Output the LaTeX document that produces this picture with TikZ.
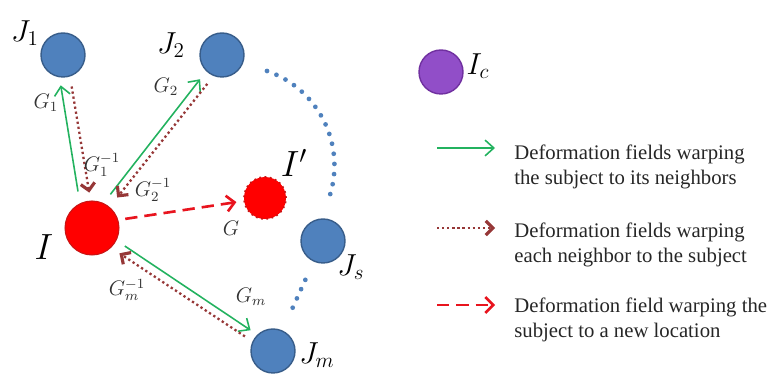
\documentclass[tikz,border=0pt]{standalone}
\usepackage{fontspec}
\setmainfont{Liberation Serif}
\usetikzlibrary{arrows.meta, positioning, calc}

\definecolor{nbrblue}{RGB}{79,129,189}
\definecolor{nbredge}{RGB}{56,93,138}
\definecolor{subjred}{RGB}{255,0,0}
\definecolor{subjedge}{RGB}{200,20,20}
\definecolor{tmplpurple}{RGB}{145,78,200}
\definecolor{tmpledge}{RGB}{112,48,160}
\definecolor{fwdgreen}{RGB}{35,178,95}
\definecolor{invmaroon}{RGB}{150,55,55}
\definecolor{newred}{RGB}{232,20,30}

\tikzset{
  nbr/.style={circle, fill=nbrblue, draw=nbredge, line width=0.8pt, inner sep=0pt, minimum size=0.88cm},
  subj/.style={circle, fill=subjred, draw=subjedge, line width=0.6pt, inner sep=0pt, minimum size=1.08cm},
  newsubj/.style={circle, fill=subjred, draw=subjedge, line width=1pt, dotted, inner sep=0pt, minimum size=0.84cm},
  tmpl/.style={circle, fill=tmplpurple, draw=tmpledge, line width=0.8pt, inner sep=0pt, minimum size=0.88cm},
  fwd/.style={draw=fwdgreen, line width=0.9pt, -{Straight Barb[length=5pt, width=9pt]}},
  inv/.style={draw=invmaroon, line width=1.3pt, dash pattern=on 1.3pt off 1.6pt,
    -{Straight Barb[length=4pt, width=8pt, line width=1.8pt]}},
  newloc/.style={draw=newred, line width=1.5pt, dash pattern=on 7pt off 4pt,
    -{Straight Barb[length=4.5pt, width=9pt, line width=1.5pt]}},
  dots/.style={draw=nbrblue, line width=2.7pt, line cap=round, dash pattern=on 0pt off 5.8pt},
  biglab/.style={font=\fontsize{18}{20}\selectfont},
  flab/.style={font=\fontsize{12}{14}\selectfont, text=black!80},
  legtext/.style={font=\fontsize{11.8}{14.2}\selectfont, text=black!85, align=left, inner sep=0pt}
}

\begin{document}
\begin{tikzpicture}[x=0.02cm, y=-0.02cm]
  \useasboundingbox (0,0) rectangle (775,378);

  % subject, its new location and the neighbors
  \node[subj] (I) at (92,228) {};
  \node[newsubj] (Inew) at (265,198) {};
  \node[nbr] (J1) at (63,55) {};
  \node[nbr] (J2) at (222,55) {};
  \node[nbr] (Js) at (323,241) {};
  \node[nbr] (Jm) at (273,351) {};
  \node[tmpl] (Ic) at (441,72) {};

  % node labels
  \node[biglab] (labJ1) at (25,33) {$J_1$};
  \node[biglab] (labJ2) at (171,45) {$J_2$};
  \node[biglab] (labJs) at (351,267) {$J_s$};
  \node[biglab] (labJm) at (317,355) {$J_m$};
  \node[biglab] (labIc) at (478,66) {$I_c$};
  \node[biglab, font=\fontsize{22}{24}\selectfont] (labI) at (44,247) {$I$};
  \node[biglab, font=\fontsize{20}{22}\selectfont] (labInew) at (294,163) {$I'$};

  % the remaining neighbors, left out
  \coordinate (arcA) at (267,71);
  \draw[dots] (arcA) arc[start angle=-71, end angle=18, radius=100];
  \draw[dots, shorten <=0.4cm, shorten >=0.36cm] (Js) -- (Jm);

  % forward fields (subject to neighbors)
  \draw[fwd, shorten <=0.24cm, shorten >=0.16cm] (I.116) -- (J1.261);
  \draw[fwd, shorten <=0.22cm, shorten >=0.2cm] (I.65) -- (J2.226);
  \draw[fwd, shorten <=0.2cm, shorten >=0.16cm] (I.333) -- (Jm.134);

  % inverse fields (neighbors to subject)
  \draw[inv, shorten <=0.2cm, shorten >=0.16cm] (J1.288) -- (I.93);
  \draw[inv, shorten <=0.2cm, shorten >=0.24cm] (J2.248) -- (I.50);
  \draw[inv, shorten <=0.18cm, shorten >=0.2cm] (Jm.155) -- (I.314);

  % field to the new location
  \draw[newloc, shorten <=0.14cm, shorten >=0.14cm] (I.17) -- (Inew.188);

  % field labels
  \node[flab] (labG1) at (46,103) {$G_1$};
  \node[flab] (labG1i) at (102,165) {$G_1^{-1}$};
  \node[flab] (labG2) at (166,87) {$G_2$};
  \node[flab] (labG2i) at (153,190) {$G_2^{-1}$};
  \node[flab] (labG) at (231,228) {$G$};
  \node[flab] (labGm) at (251,297) {$G_m$};
  \node[flab] (labGmi) at (127,290) {$G_m^{-1}$};

  % legend
  \coordinate (lgA) at (437,148);
  \coordinate (lgB) at (495,148);
  \coordinate (lgC) at (437,228);
  \coordinate (lgD) at (495,228);
  \coordinate (lgE) at (437,305);
  \coordinate (lgF) at (495,305);
  \draw[fwd] (lgA) -- (lgB);
  \draw[inv] (lgC) -- (lgD);
  \draw[newloc] (lgE) -- (lgF);
  \node[legtext, anchor=north west] (txtA) at (514,145) {Deformation fields warping\\the subject to its neighbors};
  \node[legtext, anchor=north west] (txtB) at (514,223) {Deformation fields warping\\each neighbor to the subject};
  \node[legtext, anchor=north west] (txtC) at (514,298) {Deformation field warping the\\subject to a new location};
\end{tikzpicture}
\end{document}
